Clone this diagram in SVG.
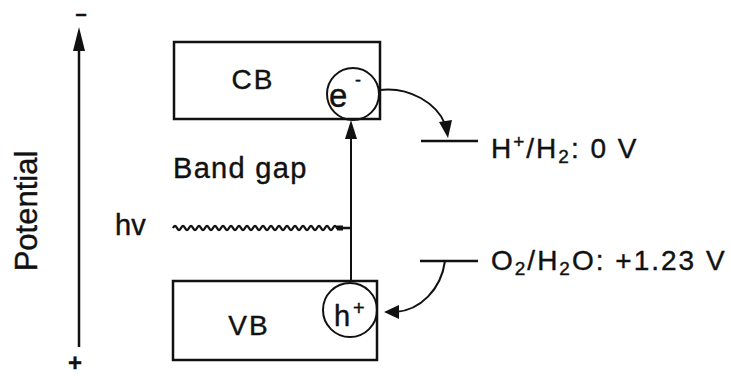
<svg xmlns="http://www.w3.org/2000/svg" width="731" height="376" viewBox="0 0 731 376">
<style>
text{font-family:"Liberation Sans",Arial,Helvetica,sans-serif;fill:#111;stroke:#111;stroke-width:0.4}
.box{fill:none;stroke:#111;stroke-width:2.5}
.ln{fill:none;stroke:#111;stroke-width:2.5}
.thin{fill:none;stroke:#111;stroke-width:2}
.head{fill:#111;stroke:none}
.lbl{font-size:28px;letter-spacing:2px}
</style>
<rect width="731" height="376" fill="#fff"/>
<g id="axis">
<line class="ln" x1="79" y1="46" x2="79" y2="347"/>
<polygon class="head" points="79,27 73,51 85,51"/>
<text x="81" y="20" font-size="20" font-weight="bold" text-anchor="middle">–</text>
<text x="75" y="371" font-size="24" font-weight="bold" text-anchor="middle">+</text>
<text transform="translate(37,211) rotate(-90)" font-size="31" text-anchor="middle">Potential</text>
</g>
<g id="CB">
<rect class="box" x="174" y="42" width="206" height="77"/>
<text x="253" y="89" font-size="28" letter-spacing="2" text-anchor="middle">CB</text>
</g>
<g id="electron">
<circle class="thin" cx="353" cy="94" r="26"/>
<text x="329" y="107" font-size="33">e</text>
<text x="355" y="86" font-size="18">-</text>
</g>
<g id="VB">
<rect class="box" x="173" y="281" width="204" height="79"/>
<text x="249" y="335" font-size="28" letter-spacing="2" text-anchor="middle">VB</text>
</g>
<g id="hole">
<circle class="thin" cx="350" cy="310" r="27"/>
<text x="334" y="326" font-size="29">h</text>
<text x="353" y="315" font-size="20">+</text>
</g>
<g id="bandgap">
<text x="173" y="178" font-size="29" letter-spacing="1.3">Band gap</text>
</g>
<g id="hv">
<text x="115" y="235" font-size="29">hv</text>
</g>
<g id="h2level">
<line class="ln" x1="421" y1="141" x2="478" y2="141"/>
<text x="491" y="158" class="lbl">H<tspan font-size="19" dy="-10">+</tspan><tspan dy="10">/H</tspan><tspan font-size="19" dy="5">2</tspan><tspan dy="-5">: 0 V</tspan></text>
</g>
<g id="o2level">
<line class="ln" x1="420" y1="261" x2="478" y2="261"/>
<text x="491" y="270" class="lbl">O<tspan font-size="19" dy="5">2</tspan><tspan dy="-5">/H</tspan><tspan font-size="19" dy="5">2</tspan><tspan dy="-5">O: +1.23 V</tspan></text>
</g>
<g id="connectors">
<path class="thin" d="M351,282 V136"/>
<polygon class="head" points="351,120 345,139 357,139"/>
<path fill="none" stroke="#111" stroke-width="2.3" d="M173,228 q2,-4 4,0 t4,0 t4,0 t4,0 t4,0 t4,0 t4,0 t4,0 t4,0 t4,0 t4,0 t4,0 t4,0 t4,0 t4,0 t4,0 t4,0 t4,0 t4,0 t4,0 t4,0 t4,0 t4,0 t4,0 t4,0 t4,0 t4,0 t4,0 t4,0 t4,0 t4,0 t4,0 t4,0 t4,0 t4,0 t4,0 t4,0 t4,0 t4,0 t4,0 t4,0 H351"/>
<rect class="head" x="337" y="225.5" width="6" height="5"/>
<path class="thin" d="M379,90 C410,86 437,104 445,124"/>
<polygon class="head" points="448,138 439,122 452,120"/>
<path class="thin" d="M445,261 C441,290 420,310 396,312"/>
<polygon class="head" points="384,312 399,305 399,319"/>
</g>
</svg>
